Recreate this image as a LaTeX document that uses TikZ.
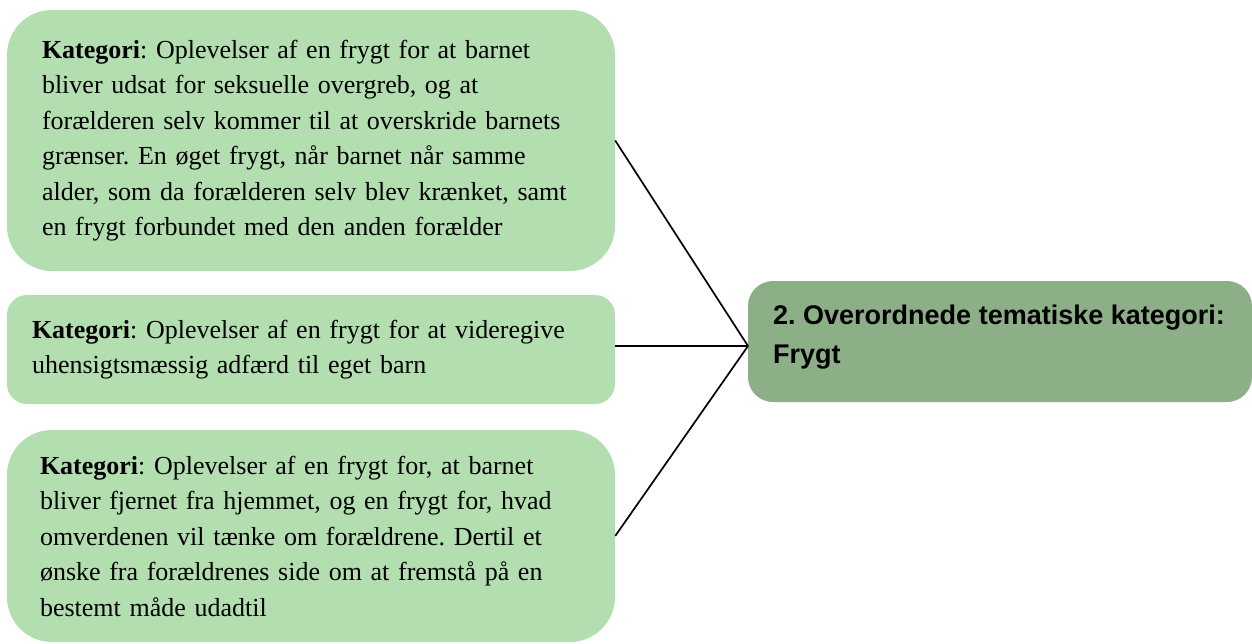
\documentclass[tikz,border=0pt]{standalone}
\usepackage{fontspec}
\setmainfont{Liberation Serif}
\newfontfamily\arialfont{Liberation Sans}
\definecolor{lightg}{RGB}{179,222,176}
\definecolor{darkg}{RGB}{141,175,136}
\tikzset{
  catbox/.style={fill=lightg, draw=none, align=left, anchor=center,
    font=\fontsize{26}{35.5}\selectfont\frenchspacing, inner ysep=0pt},
  mainbox/.style={fill=darkg, draw=none, rounded corners=25, minimum width=504, minimum height=121, inner sep=0pt},
  maintxt/.style={align=left, anchor=north west, inner sep=0pt,
    font=\arialfont\bfseries\fontsize{27}{39}\selectfont\frenchspacing},
  link/.style={draw=black, line width=1.7pt}
}
\begin{document}
\begin{tikzpicture}[x=1pt,y=-1pt]
\useasboundingbox (0,0) rectangle (1252,644);
\node[catbox, rounded corners=45, minimum width=608, minimum height=261, inner xsep=35, text width=538] (b1) at (311,140.5)
{\textbf{Kategori}: Oplevelser af en frygt for at barnet\\
bliver udsat for seksuelle overgreb, og at\\
forælderen selv kommer til at overskride barnets\\
grænser. En øget frygt, når barnet når samme\\
alder, som da forælderen selv blev krænket, samt\\
en frygt forbundet med den anden forælder};
\node[catbox, rounded corners=20, minimum width=608, minimum height=109, inner xsep=25, text width=558] (b2) at (311,349.5)
{\textbf{Kategori}: Oplevelser af en frygt for at videregive\\
uhensigtsmæssig adfærd til eget barn};
\node[catbox, rounded corners=45, minimum width=608, minimum height=212, inner xsep=33, text width=542] (b3) at (311,536)
{\textbf{Kategori}: Oplevelser af en frygt for, at barnet\\
bliver fjernet fra hjemmet, og en frygt for, hvad\\
omverdenen vil tænke om forældrene. Dertil et\\
ønske fra forældrenes side om at fremstå på en\\
bestemt måde udadtil};
\node[mainbox] (main) at (1000,341.5) {};
\node[maintxt] (mtext) at (773,305) {2. Overordnede tematiske kategori:\\Frygt};
\coordinate (hub) at (748,346);
\draw[link] (b1.east) -- (hub);
\draw[link] (b2.east |- hub) -- (hub);
\draw[link] (b3.east) -- (hub);
\end{tikzpicture}
\end{document}
